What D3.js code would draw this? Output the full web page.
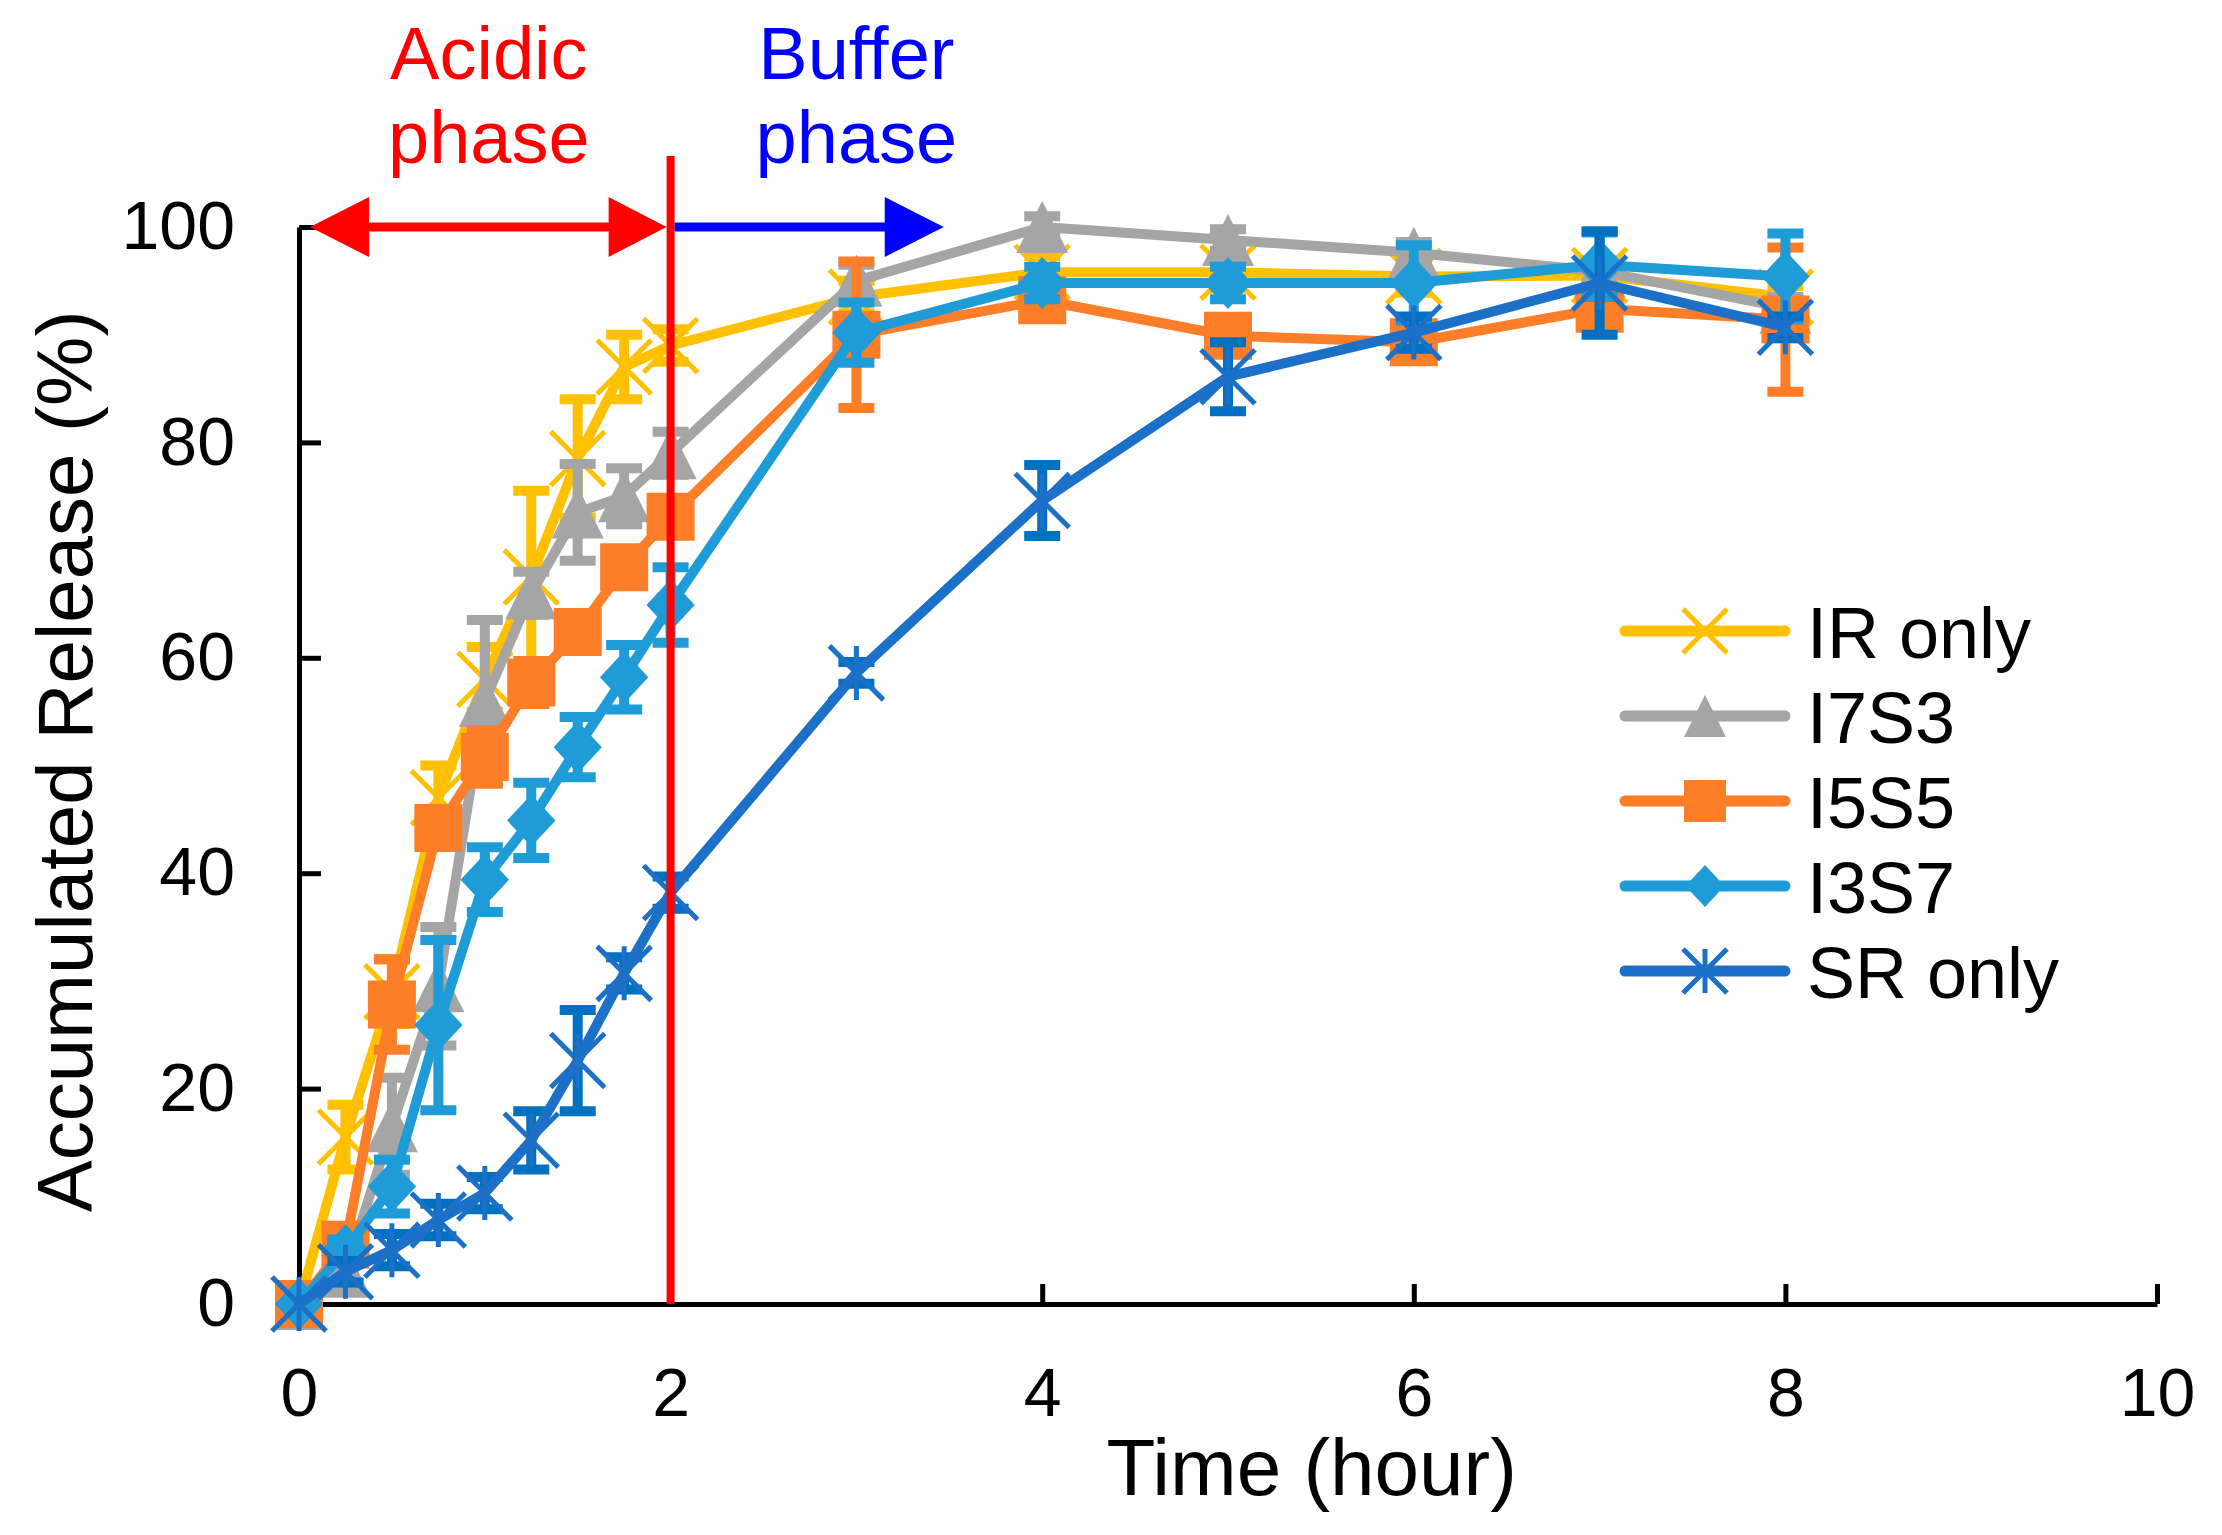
<!DOCTYPE html>
<html>
<head>
<meta charset="utf-8">
<script src="https://cdn.jsdelivr.net/npm/d3@7"></script>
<style>
  body { margin: 0; background: #fff; }
  text { font-family: "Liberation Sans", Arial, sans-serif; fill: #000; }
</style>
</head>
<body>
<svg id="chart" width="2222" height="1535"></svg>
<script>
// sampling times (hour)
var times = [0, 0.25, 0.5, 0.75, 1, 1.25, 1.5, 1.75, 2, 3, 4, 5, 6, 7, 8];

// accumulated release (%) and error bar half-lengths
var irOnly = [0, 15.5, 29, 47, 58, 67.5, 78.5, 87, 89, 93.5, 95.8, 95.8, 95.4, 95.5, 93.5];
var irErr  = [0, 3, 3, 3, 3, 8, 5.5, 3, 1.5, 1.5, 1.5, 1.5, 1.5, 1, 1];

var i7s3    = [0, 3, 16.5, 29.5, 56, 66, 73.5, 75, 79, 95, 100, 98.8, 97.6, 95.9, 92.5];
var i7s3Err = [0, 1, 4.5, 5.5, 7.5, 2, 4.5, 2.6, 2, 1.5, 1, 1, 1, 1, 1];

var i5s5    = [0, 5.5, 27.8, 44.2, 50.8, 57.7, 62.4, 68.4, 73.1, 90, 93.2, 89.9, 89.3, 92.4, 91.4];
var i5s5Err = [0, 1.5, 4.2, 1.5, 2.5, 2, 1.5, 1.5, 1.5, 6.8, 1.5, 1.5, 1.5, 1.5, 6.7];

var i3s7    = [0, 5, 10.9, 25.9, 39.4, 44.9, 51.7, 58.2, 64.9, 90.2, 94.8, 94.8, 94.8, 96.5, 95.4];
var i3s7Err = [0, 1, 2.5, 7.9, 3, 3.5, 2.8, 3, 3.5, 2.8, 1.5, 1.5, 3.5, 3, 4];

var srOnly = [0, 3, 5, 7.8, 10.3, 15.2, 22.6, 30.7, 38.2, 58.6, 74.6, 86.1, 90.2, 94.8, 90.7];
var srErr  = [0, 1, 1.5, 1.5, 1.5, 2.7, 4.7, 1.5, 1.5, 1, 3.3, 3.2, 1.5, 4.8, 1];

var seriesNames = ["IR only", "I7S3", "I5S5", "I3S7", "SR only"];
var xTicks = [0, 2, 4, 6, 8, 10];
var yTicks = [0, 20, 40, 60, 80, 100];

var margin = {top: 227, right: 65, bottom: 231, left: 299},
    width = 2222 - margin.left - margin.right,
    height = 1535 - margin.top - margin.bottom;

var x = d3.scaleLinear().domain([0, 10]).range([0, width]);
var y = d3.scaleLinear().domain([0, 100]).range([height, 0]);

var series = [
  {name: seriesNames[0], values: irOnly, errors: irErr,   color: "#FFC000", errColor: "#FFC000", marker: "x"},
  {name: seriesNames[1], values: i7s3,   errors: i7s3Err, color: "#A5A5A5", errColor: "#A5A5A5", marker: "triangle"},
  {name: seriesNames[2], values: i5s5,   errors: i5s5Err, color: "#FD7E28", errColor: "#FD7E28", marker: "square"},
  {name: seriesNames[3], values: i3s7,   errors: i3s7Err, color: "#1F9CD8", errColor: "#1F9CD8", marker: "diamond"},
  {name: seriesNames[4], values: srOnly, errors: srErr,   color: "#1C70C8", errColor: "#0070C0", marker: "star"}
];

var svg = d3.select("#chart");
var g = svg.append("g")
    .attr("transform", "translate(" + margin.left + "," + margin.top + ")");

// axes
var xAxis = d3.axisBottom(x).tickValues(xTicks).tickSizeInner(-20).tickSizeOuter(0).tickPadding(64);
var yAxis = d3.axisLeft(y).tickValues(yTicks).tickSizeInner(-22).tickSizeOuter(0).tickPadding(64);

var gx = g.append("g")
    .attr("transform", "translate(0," + height + ")")
    .call(xAxis);
var gy = g.append("g").call(yAxis);

[gx, gy].forEach(function(a) {
  a.attr("font-size", 68).attr("font-family", "Liberation Sans, Arial, sans-serif");
  a.selectAll("path, line").attr("stroke", "#000").attr("stroke-width", 5);
  a.selectAll("text").attr("fill", "#000");
});

// marker shapes
function markerPath(type, s) {
  var h = s / 2;
  if (type === "triangle") return "M0," + (-h) + "L" + h + "," + h + "L" + (-h) + "," + h + "Z";
  if (type === "square") return "M" + (-h) + "," + (-h) + "h" + s + "v" + s + "h" + (-s) + "Z";
  if (type === "diamond") return "M0," + (-h) + "L" + (h * 0.93) + ",0L0," + h + "L" + (-h * 0.93) + ",0Z";
  if (type === "x") return "M" + (-h) + "," + (-h) + "L" + h + "," + h + "M" + (-h) + "," + h + "L" + h + "," + (-h);
  // star: x plus vertical bar
  return "M" + (-h) + "," + (-h) + "L" + h + "," + h + "M" + (-h) + "," + h + "L" + h + "," + (-h) + "M0," + (-h) + "L0," + h;
}

function drawMarker(sel, s, sz) {
  var stroked = (s.marker === "x" || s.marker === "star");
  sel.append("path")
      .attr("d", markerPath(s.marker, sz))
      .attr("fill", stroked ? "none" : s.color)
      .attr("stroke", stroked ? s.color : "none")
      .attr("stroke-width", stroked ? 5 : 0)
      .attr("stroke-linejoin", "round");
}

var line = d3.line()
    .x(function(d) { return x(d.t); })
    .y(function(d) { return y(d.v); });

var dataLayer = g.append("g");

series.forEach(function(s) {
  var pts = times.map(function(t, i) { return {t: t, v: s.values[i], e: s.errors[i]}; });
  var sg = dataLayer.append("g");

  // error bars
  var eb = sg.selectAll(".err")
      .data(pts.filter(function(d) { return d.e > 0; }))
      .enter().append("g")
      .attr("stroke", s.errColor)
      .attr("stroke-width", 10);
  eb.append("line")
      .attr("x1", function(d) { return x(d.t); })
      .attr("x2", function(d) { return x(d.t); })
      .attr("y1", function(d) { return y(d.v - d.e); })
      .attr("y2", function(d) { return y(d.v + d.e); });
  eb.append("line")
      .attr("x1", function(d) { return x(d.t) - 18; })
      .attr("x2", function(d) { return x(d.t) + 18; })
      .attr("y1", function(d) { return y(d.v + d.e); })
      .attr("y2", function(d) { return y(d.v + d.e); });
  eb.append("line")
      .attr("x1", function(d) { return x(d.t) - 18; })
      .attr("x2", function(d) { return x(d.t) + 18; })
      .attr("y1", function(d) { return y(d.v - d.e); })
      .attr("y2", function(d) { return y(d.v - d.e); });

  // line
  sg.append("path")
      .datum(pts)
      .attr("d", line)
      .attr("fill", "none")
      .attr("stroke", s.color)
      .attr("stroke-width", 10)
      .attr("stroke-linejoin", "round")
      .attr("stroke-linecap", "round");

  // markers
  var sz = (s.marker === "x" || s.marker === "star") ? 54 : (s.marker === "square" ? 48 : 52);
  sg.selectAll(".mk")
      .data(pts)
      .enter().append("g")
      .attr("transform", function(d) { return "translate(" + x(d.t) + "," + y(d.v) + ")"; })
      .each(function() { drawMarker(d3.select(this), s, sz); });
});

// phase divider and arrows
var ay = y(100);
g.append("line")
    .attr("x1", x(2)).attr("x2", x(2))
    .attr("y1", ay - 71).attr("y2", y(0))
    .attr("stroke", "#FF0000").attr("stroke-width", 8);

var leftTip = x(0) + 11, rightTip = x(2) - 4, blueTip = x(3.47);
g.append("line")
    .attr("x1", leftTip + 40).attr("x2", rightTip - 40)
    .attr("y1", ay).attr("y2", ay)
    .attr("stroke", "#FF0000").attr("stroke-width", 9);
g.append("path")
    .attr("d", "M" + leftTip + "," + ay + "L" + (leftTip + 59) + "," + (ay - 30) + "L" + (leftTip + 59) + "," + (ay + 30) + "Z")
    .attr("fill", "#FF0000");
g.append("path")
    .attr("d", "M" + rightTip + "," + ay + "L" + (rightTip - 58) + "," + (ay - 30) + "L" + (rightTip - 58) + "," + (ay + 30) + "Z")
    .attr("fill", "#FF0000");
g.append("line")
    .attr("x1", x(2) + 4).attr("x2", blueTip - 40)
    .attr("y1", ay).attr("y2", ay)
    .attr("stroke", "#0000FF").attr("stroke-width", 9);
g.append("path")
    .attr("d", "M" + blueTip + "," + ay + "L" + (blueTip - 59) + "," + (ay - 30) + "L" + (blueTip - 59) + "," + (ay + 30) + "Z")
    .attr("fill", "#0000FF");

// phase labels (two lines each)
var phaseLabels = [
  {lines: ["Acidic", "phase"], cx: (x(0) + x(2)) / 2 + 4, color: "#FF0000"},
  {lines: ["Buffer", "phase"], cx: x(3), color: "#0000FF"}
];
phaseLabels.forEach(function(p) {
  p.lines.forEach(function(s, i) {
    g.append("text")
        .attr("x", p.cx)
        .attr("y", 79 - margin.top + i * 84)
        .attr("text-anchor", "middle")
        .attr("font-size", 74)
        .style("fill", p.color)
        .text(s);
  });
});

// axis titles
svg.append("text")
    .attr("x", margin.left + x(5.45))
    .attr("y", 1495)
    .attr("text-anchor", "middle")
    .attr("font-size", 80)
    .text("Time (hour)");

svg.append("text")
    .attr("transform", "translate(92," + (margin.top + height / 2 - 4) + ") rotate(-90)")
    .attr("text-anchor", "middle")
    .attr("font-size", 78)
    .text("Accumulated Release (%)");

// legend
var legend = svg.append("g").attr("transform", "translate(1625,631)");
series.forEach(function(s, i) {
  var row = legend.append("g").attr("transform", "translate(0," + (i * 85) + ")");
  row.append("line")
      .attr("x1", 0).attr("x2", 160)
      .attr("stroke", s.color).attr("stroke-width", 11)
      .attr("stroke-linecap", "round");
  var m = row.append("g").attr("transform", "translate(80,0)");
  drawMarker(m, s, (s.marker === "x" || s.marker === "star") ? 44 : 42);
  row.append("text")
      .attr("x", 182).attr("y", 27)
      .attr("font-size", 72)
      .text(s.name);
});
</script>
</body>
</html>
